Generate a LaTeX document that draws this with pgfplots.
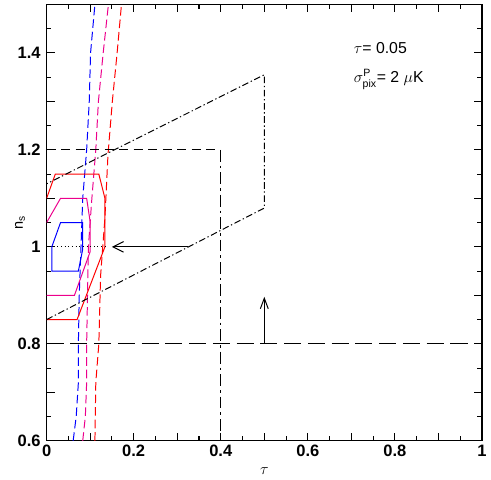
\documentclass[border=0pt]{standalone}
\usepackage{fontspec}
\setmainfont{Liberation Sans}
\setsansfont{Liberation Sans}
\usepackage{amsmath}
\usepackage{pgfplots}
\pgfplotsset{compat=1.18}
\usetikzlibrary{arrows.meta}

\begin{document}
\begin{tikzpicture}
\begin{axis}[
    scale only axis,
    width=330pt, height=330.75pt,
    xmin=0, xmax=1, ymin=0.6, ymax=1.5,
    xtick={0,0.1,0.2,0.3,0.4,0.5,0.6,0.7,0.8,0.9,1},
    xticklabels={0,,0.2,,0.4,,0.6,,0.8,,1},
    ytick={0.6,0.7,0.8,0.9,1,1.1,1.2,1.3,1.4,1.5},
    yticklabels={0.6,,0.8,,1,,1.2,,1.4,},
    minor x tick num=1, minor y tick num=1,
    tick align=inside,
    major tick length=6pt, minor tick length=3.5pt,
    every tick/.style={black, line width=0.8pt},
    axis line style={line width=1pt},
    tick label style={font=\fontsize{12.5}{14}\selectfont\bfseries},
    yticklabel style={xshift=-1pt},
    xlabel={$\tau$},
    xlabel style={at={(axis description cs:0.5,-0.052)}, anchor=north, font=\large},
    ylabel={n\textsubscript{s}},
    ylabel style={at={(axis description cs:-0.061,0.5)}, anchor=center, font=\fontsize{11}{13}\selectfont},
    every axis plot/.append style={line width=0.75pt},
]
    % likelihood bands (dashed)
    \addplot[blue, dash pattern=on 6.5pt off 3pt] coordinates {
        (0.061,0.6) (0.068,0.65) (0.073,0.72) (0.073,0.8) (0.075,0.9) (0.079,1.0)
        (0.083,1.1) (0.092,1.2) (0.098,1.3) (0.101,1.4) (0.111,1.5)};
    \addplot[magenta, dash pattern=on 6.5pt off 3pt] coordinates {
        (0.083,0.6) (0.089,0.65) (0.092,0.72) (0.092,0.8) (0.094,0.9) (0.096,1.0)
        (0.104,1.1) (0.113,1.2) (0.119,1.3) (0.130,1.4) (0.142,1.5)};
    \addplot[red, dash pattern=on 6.5pt off 3pt] coordinates {
        (0.111,0.6) (0.113,0.72) (0.120,0.8) (0.124,0.94) (0.134,1.06)
        (0.141,1.19) (0.151,1.3) (0.162,1.4) (0.172,1.5)};

    % contours
    \addplot[red] coordinates {
        (0,1.10) (0.02,1.15) (0.12,1.15) (0.134,1.10) (0.134,1.0) (0.07,0.85) (0,0.85)};
    \addplot[magenta] coordinates {
        (0,1.05) (0.032,1.10) (0.092,1.10) (0.10,1.052) (0.10,0.99) (0.064,0.90) (0,0.90)};
    \addplot[blue] coordinates {
        (0.012,1.0) (0.032,1.05) (0.083,1.05) (0.083,0.995) (0.073,0.95) (0.012,0.95) (0.012,1.0)};

    % black lines
    \addplot[black, dotted, line width=0.9pt] coordinates {(0,1) (0.134,1)};
    \addplot[black, -{Straight Barb[length=8pt,width=8pt]}] coordinates {(0.325,1) (0.15,1)};
    \addplot[black, -{Straight Barb[length=8pt,width=6pt]}] coordinates {(0.5,0.8) (0.5,0.897)};
    \addplot[black, dash pattern=on 13pt off 5pt] coordinates {(0,0.8) (1,0.8)};
    \addplot[black, dash pattern=on 7pt off 4pt] coordinates {(0,1.2) (0.4,1.2)};
    \addplot[black, dash pattern=on 9pt off 3pt on 2pt off 3pt] coordinates {(0.4,1.2) (0.4,0.6)};
    \addplot[black, dash pattern=on 5pt off 2pt on 1pt off 2pt] coordinates {
        (0,0.85) (0.5,1.08) (0.5,1.355) (0,1.13)};

    \node[anchor=west, font=\fontsize{12}{14}\selectfont] at (axis cs:0.695,1.41) {$\tau$= 0.05};
    \node[anchor=west, font=\fontsize{12}{14}\selectfont] at (axis cs:0.695,1.345) {$\sigma^{\text{P}}_{\text{pix}}$= 2 $\mu$K};

    \coordinate (bl) at (rel axis cs:-0.107,-0.0726);
    \coordinate (tr) at (rel axis cs:1.009,1.002);
\end{axis}
\path (bl) rectangle (tr);
\end{tikzpicture}
\end{document}
